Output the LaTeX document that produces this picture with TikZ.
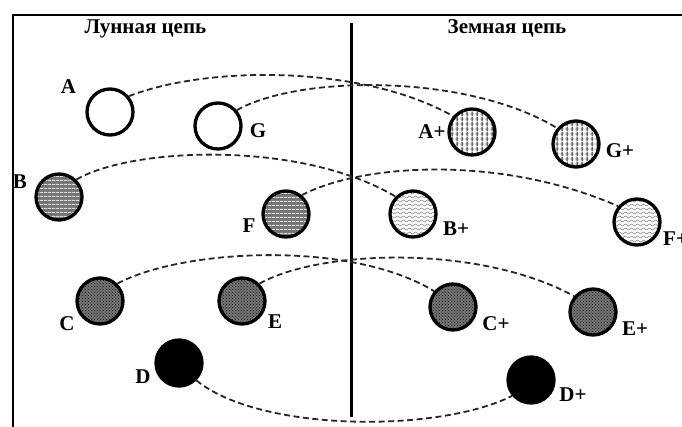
\documentclass[tikz,border=0pt]{standalone}
\usepackage{fontspec}
\setmainfont{Liberation Serif}
\usetikzlibrary{patterns,patterns.meta}

\tikzdeclarepattern{name=wavy, type=uncolored,
  bottom left={(-0.5pt,-0.5pt)}, top right={(6.5pt,4.5pt)}, tile size={(6pt,4pt)},
  code={\draw[line width=0.6pt] (0pt,1pt) sin (1.5pt,2pt) cos (3pt,1pt) sin (4.5pt,0pt) cos (6pt,1pt);}}
\tikzdeclarepattern{name=vlinesfive, type=uncolored,
  bottom left={(0pt,0pt)}, top right={(5pt,5pt)}, tile size={(5pt,5pt)},
  code={\fill (2pt,0pt) rectangle (3.1pt,5pt);}}
\tikzdeclarepattern{name=hlinesfive, type=uncolored,
  bottom left={(0pt,0pt)}, top right={(5pt,5pt)}, tile size={(5pt,5pt)},
  code={\fill (0pt,2pt) rectangle (5pt,2.9pt);}}
\tikzdeclarepattern{name=hlinesfour, type=uncolored,
  bottom left={(0pt,0pt)}, top right={(4pt,4pt)}, tile size={(4pt,4pt)},
  code={\fill (0pt,1.5pt) rectangle (4pt,2.7pt);}}

\tikzset{
  planet/.style={circle, draw=black, line width=3.3pt, minimum size=46pt, inner sep=0pt},
  plwhite/.style={planet, fill=white},
  plgrid/.style={planet, preaction={fill=white}, preaction={pattern=hlinesfive, pattern color=black!45}, pattern=vlinesfive, pattern color=black!85},
  plstripe/.style={planet, preaction={fill=black!55}, pattern=hlinesfour, pattern color=white!85!black},
  plwavy/.style={planet, preaction={fill=white}, pattern=wavy, pattern color=black!45},
  pldots/.style={planet, preaction={fill=black!55}, pattern=crosshatch dots, pattern color=black!90},
  plblack/.style={planet, fill=black},
  lbl/.style={font=\fontsize{21}{24}\selectfont\bfseries, anchor=base, inner sep=0pt},
  ttl/.style={font=\fontsize{21}{24}\selectfont\bfseries, anchor=base, inner sep=0pt},
  dashline/.style={dash pattern=on 6pt off 3.5pt, line width=1.8pt, draw=black!85},
  rule/.style={line width=2.6pt, draw=black},
}

\begin{document}
\begin{tikzpicture}[x=1pt,y=-1pt]
\useasboundingbox (0,0) rectangle (682,426);

% frame
\coordinate (fbl) at (13,426);
\coordinate (ftl) at (13,15);
\coordinate (ftr) at (682,15);
\draw[rule, line cap=rect] (fbl) -- (ftl) -- (ftr);

% divider
\coordinate (dtop) at (351,23);
\coordinate (dbot) at (351,417);
\draw[rule, line width=3pt] (dtop) -- (dbot);

% titles
\node[ttl] (tleft) at (145.5,33) {Лунная цепь};
\node[ttl] (tright) at (507,33) {Земная цепь};

% left planets
\node[plwhite] (A) at (110,112) {};
\node[plwhite] (G) at (218,126) {};
\node[plstripe] (B) at (59,197) {};
\node[plstripe] (F) at (286,214) {};
\node[pldots] (C) at (100,301) {};
\node[pldots] (E) at (242,301) {};
\node[plblack] (D) at (179,363) {};

% right planets
\node[plgrid] (Ap) at (472,132) {};
\node[plgrid] (Gp) at (576,144) {};
\node[plwavy] (Bp) at (413,214) {};
\node[plwavy] (Fp) at (637,222) {};
\node[pldots] (Cp) at (453,307) {};
\node[pldots] (Ep) at (593,312) {};
\node[plblack] (Dp) at (531,380) {};

% labels
\node[lbl] (lA) at (68.5,93) {A};
\node[lbl] (lG) at (258,137) {G};
\node[lbl] (lB) at (20,188) {B};
\node[lbl] (lF) at (249,232) {F};
\node[lbl] (lC) at (67,330) {C};
\node[lbl] (lE) at (275,328) {E};
\node[lbl] (lD) at (143,383) {D};
\node[lbl] (lAp) at (432,138) {A+};
\node[lbl] (lGp) at (620,157) {G+};
\node[lbl] (lBp) at (456,235) {B+};
\node[lbl, anchor=base west] (lFp) at (663,245) {F+};
\node[lbl] (lCp) at (496,330) {C+};
\node[lbl] (lEp) at (635,335) {E+};
\node[lbl] (lDp) at (573,401) {D+};

% connectors
\draw[dashline] (A.40) .. controls +(80,-31) and +(-90,-51) .. (Ap.140);
\draw[dashline] (G.40) .. controls +(64,-36) and +(-88,-54) .. (Gp.140);
\draw[dashline] (B.45) .. controls +(54,-32) and +(-96,-57) .. (Bp.135);
\draw[dashline] (F.50) .. controls +(59,-31) and +(-119,-52) .. (Fp.140);
\draw[dashline] (C.45) .. controls +(63,-34) and +(-85,-52) .. (Cp.140);
\draw[dashline] (E.45) .. controls +(61,-34) and +(-95,-52) .. (Ep.140);
\draw[dashline] (D.-45) .. controls +(64,52) and +(-73,37) .. (Dp.220);
\end{tikzpicture}
\end{document}
